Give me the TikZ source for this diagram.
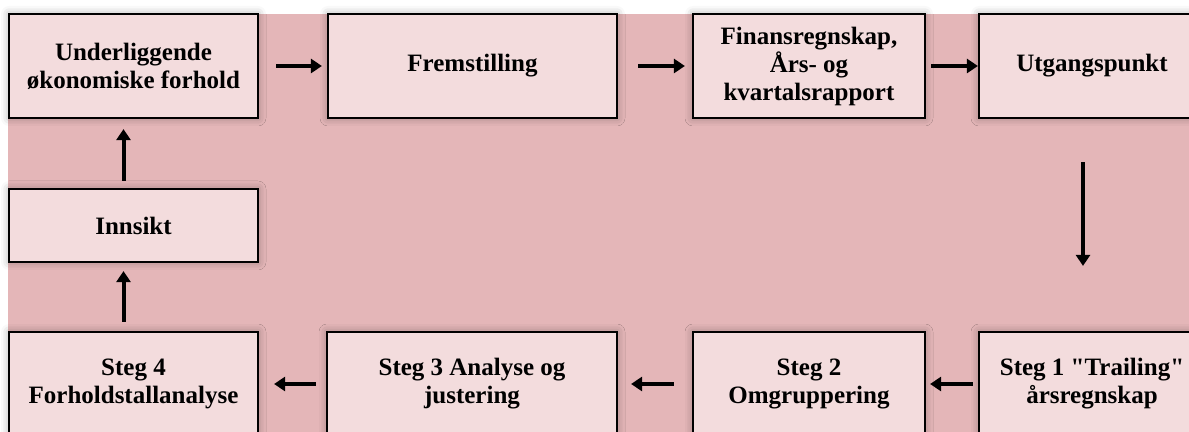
\documentclass[tikz,border=0pt]{standalone}
\usepackage{fontspec}
\setmainfont{Liberation Serif}[Ligatures=TeXOff]
\usetikzlibrary{arrows.meta,shadows.blur}
\definecolor{backpink}{HTML}{E4B6B8}
\definecolor{boxpink}{HTML}{F3DCDD}

\begin{document}
\begin{tikzpicture}[
  x=0.5pt,y=-0.5pt,
  box/.style={draw=black,fill=boxpink,line width=1.1pt,align=center,inner sep=2pt,
    minimum height=52pt,font=\bfseries\fontsize{12.5}{14}\selectfont,
    blur shadow={shadow xshift=0pt,shadow yshift=0pt,shadow blur radius=4pt,shadow opacity=35}},
  flow/.style={-{Triangle[length=5.5pt,width=7pt]},draw=black,line width=2pt}
]
\useasboundingbox (0,0) rectangle (1189,432);
\fill[backpink] (8,14) rectangle (1189,432);

\node[box,minimum width=124.5pt] (ground) at (133.5,66) {Underliggende\\økonomiske forhold};
\node[box,minimum width=144.5pt] (present) at (472.5,66) {Fremstilling};
\node[box,minimum width=116pt] (report) at (809,66) {Finansregnskap,\\Års- og\\kvartalsrapport};
\node[box,minimum width=113pt] (start) at (1092,66) {Utgangspunkt};
\draw[flow,shorten <=8.5pt,shorten >=2.5pt] (ground) -- (present);
\draw[flow,shorten <=10pt,shorten >=3.5pt] (present) -- (report);
\draw[flow,shorten <=2.5pt] (report) -- (start);

\node[box,minimum width=124.5pt,minimum height=36.5pt] (insight) at (133.5,225.5) {Innsikt};
\node[box,minimum width=124.5pt] (step4) at (133.5,384) {Steg 4\\Forholdstallanalyse};
\node[box,minimum width=145pt] (step3) at (472,384) {Steg 3 Analyse og\\justering};
\node[box,minimum width=116pt] (step2) at (809,384) {Steg 2\\Omgruppering};
\node[box,minimum width=113pt] (step1) at (1092,384) {Steg 1 "Trailing"\\årsregnskap};
\draw[flow,shorten <=21.5pt,shorten >=32.5pt] ([xshift=-4.5pt]start.south) -- ([xshift=-4.5pt]step1.north);
\draw[flow,shorten <=2.5pt,shorten >=2pt] (step1) -- (step2);
\draw[flow,shorten <=9pt,shorten >=6.5pt] (step2) -- (step3);
\draw[flow,shorten <=5pt,shorten >=7.5pt] (step3) -- (step4);
\draw[flow,shorten <=4.5pt,shorten >=4pt] ([xshift=-5pt]step4.north) -- ([xshift=-5pt]insight.south);
\draw[flow,shorten <=3.5pt,shorten >=5pt] ([xshift=-5pt]insight.north) -- ([xshift=-5pt]ground.south);
\end{tikzpicture}
\end{document}
